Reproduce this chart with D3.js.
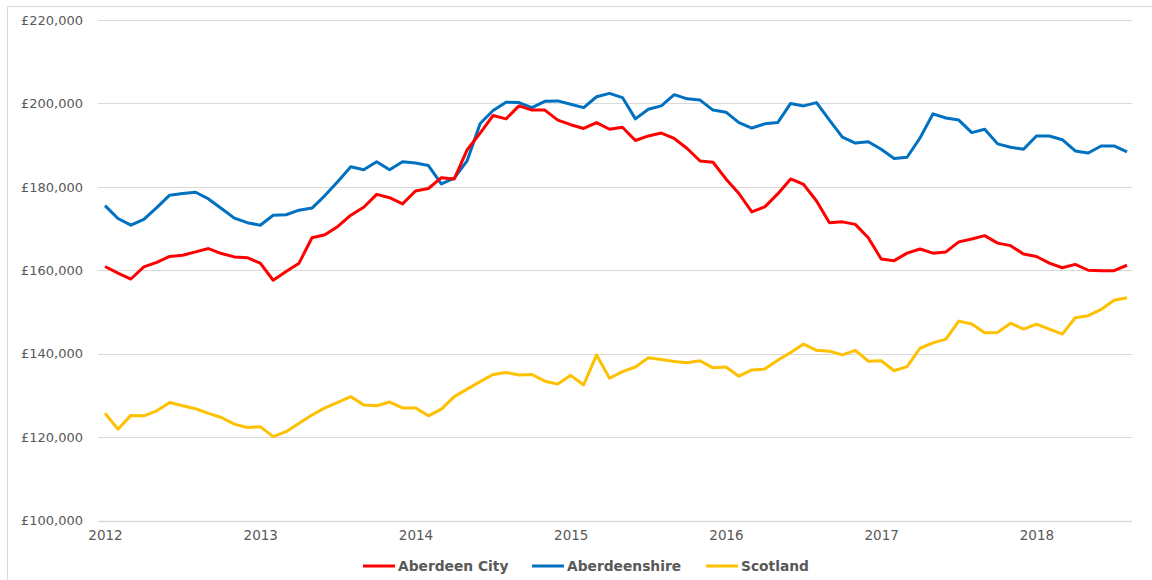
<!DOCTYPE html>
<html>
<head>
<meta charset="utf-8">
<script src="https://cdn.jsdelivr.net/npm/d3@7"></script>
<style>
  body { margin: 0; background: #fff; }
  text { font-family: "DejaVu Sans", sans-serif; }
</style>
</head>
<body>
<div id="chart"></div>
<script>
var w = 1152, h = 580;

// monthly averages, Jan 2012 - Aug 2018
var years = ["2012", "2013", "2014", "2015", "2016", "2017", "2018"];
var yTicks = [100000, 120000, 140000, 160000, 180000, 200000, 220000];
var seriesNames = ["Aberdeen City", "Aberdeenshire", "Scotland"];
var seriesColors = ["#ff0000", "#0070c0", "#ffc000"];

var aberdeenCity = [
  160900, 159300, 157900, 160800, 161900, 163300, 163600, 164400, 165200, 164000, 163200, 163000,
  161700, 157600, 159700, 161700, 167800, 168500, 170500, 173200, 175100, 178200, 177400, 175900,
  179000, 179600, 182200, 181900, 188900, 192900, 197100, 196300, 199400, 198400, 198400, 196000,
  194900, 194000, 195400, 193800, 194300, 191100, 192200, 192900, 191600, 189200, 186200, 185900,
  181900, 178400, 174000, 175200, 178300, 181900, 180600, 176600, 171400, 171600, 171000, 167800,
  162700, 162300, 164100, 165100, 164100, 164400, 166800, 167500, 168300, 166500, 165900, 163900,
  163300, 161700, 160600, 161400, 160000, 159900, 159900, 161200
];
var aberdeenshire = [
  175500, 172400, 170800, 172200, 175000, 178000, 178400, 178700, 177100, 174800, 172500, 171400,
  170800, 173200, 173300, 174400, 174900, 177900, 181300, 184800, 184100, 186000, 184100, 186000,
  185700, 185100, 180700, 182100, 186300, 195200, 198300, 200300, 200200, 199000, 200500, 200600,
  199800, 199000, 201600, 202400, 201400, 196300, 198600, 199400, 202100, 201100, 200800, 198400,
  197900, 195400, 194100, 195100, 195400, 200000, 199400, 200200, 196000, 191900, 190500, 190800,
  189000, 186800, 187100, 191700, 197500, 196500, 196000, 193000, 193800, 190300, 189500, 189000,
  192200, 192200, 191300, 188600, 188100, 189800, 189800, 188400
];
var scotland = [
  125700, 121900, 125200, 125100, 126300, 128300, 127500, 126800, 125700, 124700, 123100, 122300,
  122500, 120100, 121300, 123300, 125300, 127000, 128300, 129700, 127700, 127500, 128400, 127000,
  127000, 125100, 126700, 129700, 131500, 133300, 135000, 135500, 134900, 135000, 133400, 132700,
  134800, 132500, 139700, 134100, 135700, 136800, 139000, 138600, 138100, 137800, 138300, 136600,
  136800, 134600, 136100, 136300, 138400, 140300, 142300, 140800, 140600, 139700, 140800, 138200,
  138300, 135900, 136900, 141300, 142600, 143500, 147800, 147100, 145000, 145100, 147300, 145900,
  147100, 145900, 144700, 148600, 149100, 150600, 152800, 153400
];
var allSeries = [aberdeenCity, aberdeenshire, scotland];

var svg = d3.select("#chart")
    .append("svg")
    .attr("width", w)
    .attr("height", h);

// chart border
svg.append("rect")
    .attr("x", 7.5)
    .attr("y", 6.5)
    .attr("width", 1160)
    .attr("height", 600)
    .attr("fill", "none")
    .attr("stroke", "#d9d9d9");

var x = d3.scaleLinear()
    .domain([0, aberdeenCity.length - 1])
    .range([105, 1127]);

var y = d3.scaleLinear()
    .domain([100000, 220000])
    .range([520.5, 20]);

// gridlines
svg.append("g")
    .selectAll("line")
    .data(yTicks)
    .enter().append("line")
    .attr("x1", 98)
    .attr("x2", 1132)
    .attr("y1", function(d) { return Math.round(y(d)) + 0.5; })
    .attr("y2", function(d) { return Math.round(y(d)) + 0.5; })
    .attr("stroke", "#d9d9d9")
    .attr("stroke-width", function(d) { return d == 100000 ? 1.5 : 1; });

var yAxis = d3.axisLeft(y)
    .tickValues(yTicks)
    .tickSize(0)
    .tickPadding(0)
    .tickFormat(function(d) { return "£" + d3.format(",")(d); });

svg.append("g")
    .attr("class", "y axis")
    .attr("transform", "translate(83,0)")
    .call(yAxis)
    .call(function(g) { g.select(".domain").remove(); })
    .selectAll("text")
      .attr("fill", "#595959")
      .style("font-size", "13px");

var xAxis = d3.axisBottom(x)
    .tickValues(d3.range(years.length).map(function(i) { return i * 12; }))
    .tickSize(0)
    .tickPadding(0)
    .tickFormat(function(d) { return years[d / 12]; });

svg.append("g")
    .attr("class", "x axis")
    .attr("transform", "translate(0,530)")
    .call(xAxis)
    .call(function(g) { g.select(".domain").remove(); })
    .selectAll("text")
      .attr("fill", "#595959")
      .style("font-size", "13.5px");

var line = d3.line()
    .x(function(d, i) { return x(i); })
    .y(function(d) { return y(d); });

// draw bottom-up so red sits on top like the original
[2, 1, 0].forEach(function(k) {
  svg.append("path")
      .datum(allSeries[k])
      .attr("fill", "none")
      .attr("stroke", seriesColors[k])
      .attr("stroke-width", 3)
      .attr("stroke-linejoin", "round")
      .attr("d", line);
});

// legend
var legendX = [363, 532, 706];
var legend = svg.append("g").attr("transform", "translate(0,566)");

legend.selectAll("line")
    .data(seriesNames)
    .enter().append("line")
    .attr("x1", function(d, i) { return legendX[i]; })
    .attr("x2", function(d, i) { return legendX[i] + 32; })
    .attr("stroke", function(d, i) { return seriesColors[i]; })
    .attr("stroke-width", 3);

legend.selectAll("text")
    .data(seriesNames)
    .enter().append("text")
    .attr("x", function(d, i) { return legendX[i] + 35; })
    .attr("dy", "0.35em")
    .attr("fill", "#595959")
    .style("font-size", "13.8px")
    .style("font-weight", "bold")
    .text(function(d) { return d; });
</script>
</body>
</html>
